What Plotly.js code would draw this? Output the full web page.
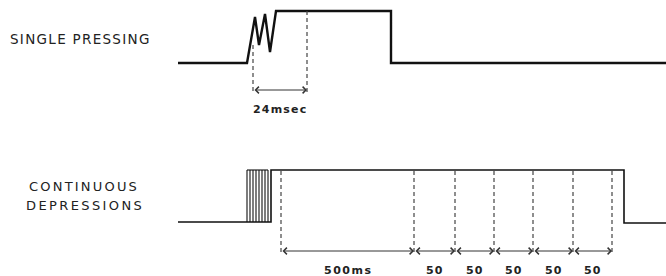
<!DOCTYPE html>
<html>
<head>
<meta charset="utf-8">
<script src="https://cdn.plot.ly/plotly-3.0.1.min.js"></script>
<style>
html,body{margin:0;padding:0;background:#fff;}
#chart{width:666px;height:276px;}
</style>
</head>
<body>
<div id="chart"></div>
<script>
// ---- Data (diagram coordinates: x = time position, y = signal position) ----
// Single pressing waveform with contact bounce
const singleTime  = [178, 247, 255, 259, 265, 270, 276, 391, 391, 666];
const singleLevel = [63, 63, 17, 45, 14, 52, 11, 11, 63, 63];

// Continuous depressions waveform
const contLow = 222;
const contHigh = 170;
const contStart = 178;
const bounceEdges = [247, 250, 253, 256, 259, 262, 265, 268];
const contRise = 271;
const contFall = 624;
const contEnd = 666;
const contLowAfter = 223;

// Dashed time markers
const topMarks = [253, 307];
const topMarkTops = [45, 11];
const topMarkBottom = 93;
const topArrowY = 90;
const topLabels = ["24msec"];
const topLabelY = 109;

const bottomMarks = [281, 414, 455, 494, 533, 573, 612];
const bottomMarkTop = 171;
const bottomMarkBottom = 255;
const bottomArrowY = 251;
const bottomLabels = ["500ms", "50", "50", "50", "50", "50"];
const bottomLabelY = 270;

// Row labels
const rowLabels = ["SINGLE PRESSING", "CONTINUOUS", "DEPRESSIONS"];

// ---- Build traces ----
const contX = [contStart, contRise, contRise, contFall, contFall, contEnd];
const contY = [contLow, contLow, contHigh, contHigh, contLowAfter, contLowAfter];

const bounceX = [], bounceY = [];
bounceEdges.forEach(function (e) {
  bounceX.push(e, e, null);
  bounceY.push(contLow, contHigh, null);
});
bounceX.push(bounceEdges[0], bounceEdges[bounceEdges.length - 1], null);
bounceY.push(contHigh, contHigh, null);

const traces = [];
traces.push({x: singleTime, y: singleLevel, mode: 'lines', line: {color: '#111', width: 2.4}, hoverinfo: 'skip'});
traces.push({x: contX, y: contY, mode: 'lines', line: {color: '#111', width: 1.6}, hoverinfo: 'skip'});
traces.push({x: bounceX, y: bounceY, mode: 'lines', line: {color: '#111', width: 1.1}, hoverinfo: 'skip', connectgaps: false});

topMarks.forEach(function (m, i) {
  traces.push({x: [m, m], y: [topMarkTops[i], topMarkBottom], mode: 'lines',
    line: {color: '#444', width: 1.2, dash: '4px,3px'}, hoverinfo: 'skip'});
});
bottomMarks.forEach(function (m) {
  traces.push({x: [m, m], y: [bottomMarkTop, bottomMarkBottom], mode: 'lines',
    line: {color: '#444', width: 1.2, dash: '4px,3px'}, hoverinfo: 'skip'});
});

const annotations = [];
function arrow(x0, x1, y) {
  annotations.push({x: x1, y: y, ax: x0, ay: y, xref: 'x', yref: 'y', axref: 'x', ayref: 'y',
    text: '', showarrow: true, arrowside: 'end+start', arrowhead: 4, arrowsize: 1.3,
    arrowwidth: 1, arrowcolor: '#333', standoff: 0, startstandoff: 0});
}
function label(txt, x, y, size, spacing, bold, anchor) {
  annotations.push({x: x, y: y, xref: 'x', yref: 'y', showarrow: false,
    xanchor: anchor || 'center', yanchor: 'middle',
    text: (bold ? '<b>' : '') + '<span style="letter-spacing:' + spacing + 'px">' + txt + '</span>' + (bold ? '</b>' : ''),
    font: {family: 'DejaVu Sans', size: size, color: '#222'}});
}

for (let i = 0; i < topMarks.length - 1; i++) {
  arrow(topMarks[i], topMarks[i + 1], topArrowY);
  label(topLabels[i], (topMarks[i] + topMarks[i + 1]) / 2, topLabelY, 11, 1.2, true);
}
for (let i = 0; i < bottomMarks.length - 1; i++) {
  arrow(bottomMarks[i], bottomMarks[i + 1], bottomArrowY);
  label(bottomLabels[i], (bottomMarks[i] + bottomMarks[i + 1]) / 2, bottomLabelY, 11, i === 0 ? 1.5 : 1, true);
}

label(rowLabels[0], 8, 39, 13.5, 1.3, false, 'left');
label(rowLabels[1], 84, 186, 13, 2.2, false);
label(rowLabels[2], 85, 205, 13, 2.4, false);

const layout = {
  width: 666, height: 276,
  margin: {l: 0, r: 0, t: 0, b: 0},
  paper_bgcolor: '#fff', plot_bgcolor: '#fff',
  showlegend: false,
  xaxis: {range: [0, 666], visible: false, fixedrange: true},
  yaxis: {range: [276, 0], visible: false, fixedrange: true},
  annotations: annotations
};

Plotly.newPlot('chart', traces, layout, {displayModeBar: false, staticPlot: true});
</script>
</body>
</html>
